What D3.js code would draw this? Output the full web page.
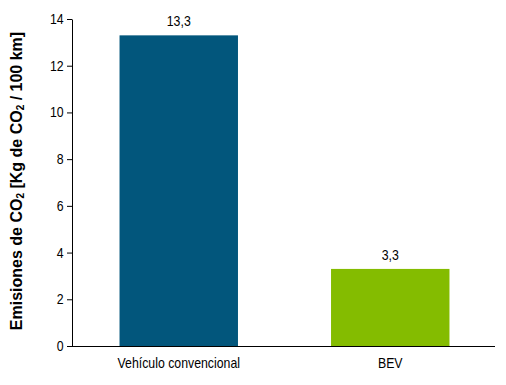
<!DOCTYPE html>
<html>
<head>
<meta charset="utf-8">
<script src="https://cdn.jsdelivr.net/npm/d3@7.9.0/dist/d3.min.js"></script>
<style>
  body { margin: 0; background: #fff; }
  svg { display: block; }
  .tick text, .lbl { font-family: "Liberation Sans Narrow", "Arial Narrow", "Liberation Sans", sans-serif; font-size: 14px; fill: #000; }
</style>
</head>
<body>
<svg id="chart"></svg>
<script>
const categories = ["Vehículo convencional", "BEV"];
const values = [13.3, 3.3];
const colors = ["#02567c", "#84bc00"];
const yTicks = [0, 2, 4, 6, 8, 10, 12, 14];

const width = 506, height = 385;
const narrow = 0.88; // horizontal squeeze to mimic the condensed font
const svg = d3.select("#chart").attr("width", width).attr("height", height);

const x = d3.scaleBand().domain(categories).range([73, 496])
    .paddingInner(0.44).paddingOuter(0.22);
const y = d3.scaleLinear().domain([0, 14]).range([346, 19]);

// bars
svg.selectAll("rect.bar")
    .data(values)
    .enter()
    .append("rect")
    .attr("class", "bar")
    .attr("x", (d, i) => x(categories[i]))
    .attr("width", x.bandwidth())
    .attr("y", d => y(d))
    .attr("height", d => y(0) - y(d))
    .attr("fill", (d, i) => colors[i]);

// value labels
svg.selectAll("text.lbl")
    .data(values)
    .enter()
    .append("text")
    .attr("class", "lbl")
    .attr("transform", (d, i) => `translate(${x(categories[i]) + x.bandwidth() / 2},${y(d) - 9}) scale(${narrow},1)`)
    .attr("text-anchor", "middle")
    .text(d => d.toString().replace(".", ","));

// y axis
const yAxis = svg.append("g")
    .attr("transform", "translate(72,0)")
    .call(d3.axisLeft(y).tickValues(yTicks).tickSize(5).tickSizeOuter(0).tickPadding(3));
yAxis.select(".domain").attr("stroke", "#000");
yAxis.selectAll(".tick text").attr("transform", `scale(${narrow},1)`).attr("x", -9.5);

// x axis
const xAxis = svg.append("g")
    .attr("transform", "translate(0,346)")
    .call(d3.axisBottom(x).tickSize(0).tickPadding(10));
xAxis.select(".domain").remove();
xAxis.selectAll(".tick text").attr("dy", "0.85em").attr("transform", `scale(${narrow},1)`);
svg.append("line")
    .attr("x1", 72).attr("x2", 495)
    .attr("y1", 346.5).attr("y2", 346.5)
    .attr("stroke", "#000");

// y axis title
const title = svg.append("text")
    .attr("transform", "translate(22,181) rotate(-90)")
    .attr("text-anchor", "middle")
    .style("font-family", "'Liberation Sans', Arial, sans-serif")
    .style("font-size", "16px")
    .style("font-weight", "bold");
title.append("tspan").text("Emisiones de CO");
title.append("tspan").attr("font-size", "10px").attr("dy", 2).text("2");
title.append("tspan").attr("dy", -2).text(" [Kg de CO");
title.append("tspan").attr("font-size", "10px").attr("dy", 2).text("2");
title.append("tspan").attr("dy", -2).text(" / 100 km]");
</script>
</body>
</html>
